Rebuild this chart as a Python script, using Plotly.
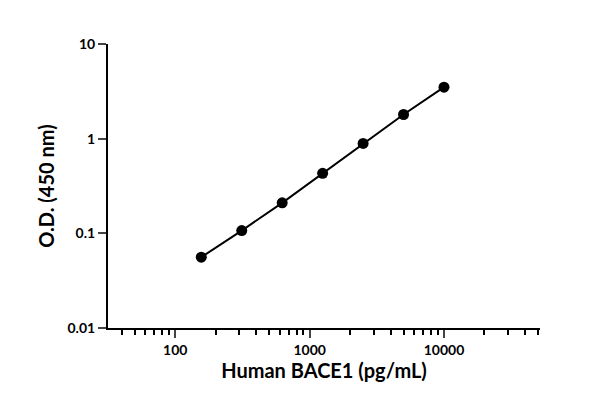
import plotly.graph_objects as go
import numpy as np

conc = [156.25, 312.5, 625, 1250, 2500, 5000, 10000]
od = [0.056, 0.107, 0.21, 0.43, 0.89, 1.8, 3.5]
xticks = [100, 1000, 10000]
xlabels = ["100", "1000", "10000"]
yticks = [0.01, 0.1, 1, 10]
ylabels = ["0.01", "0.1", "1", "10"]

fig = go.Figure()
fig.add_trace(go.Scatter(x=conc, y=od, mode="lines+markers",
                         line=dict(color="black", width=2),
                         marker=dict(color="black", size=11)))

minor_x = [v*m for v in [10, 100, 1000, 10000] for m in range(2, 10)]
fig.update_layout(
    width=600, height=414, plot_bgcolor="white", paper_bgcolor="white",
    margin=dict(l=100, r=68, t=36, b=94), showlegend=False,
    font=dict(family="Lato", color="black", size=14),
    xaxis=dict(type="log", range=[np.log10(31.6), np.log10(51800)],
               tickvals=xticks, ticktext=[f"<b>{t}</b>" for t in xlabels],
               showgrid=False, zeroline=False, showline=True, linecolor="black", linewidth=2,
               ticks="outside", ticklen=8, tickwidth=2,
               minor=dict(tickvals=minor_x, ticklen=5, tickwidth=1.5, ticks="outside", tickcolor="black"),
               title=dict(text="<b>Human BACE1 (pg/mL)</b>", font=dict(size=20), standoff=6),
               tickfont=dict(size=14, family="Lato")),
    yaxis=dict(type="log", range=[-2, 1],
               tickvals=yticks, ticktext=[f"<b>{t}</b>" for t in ylabels],
               showgrid=False, zeroline=False, showline=True, linecolor="black", linewidth=2,
               ticks="outside", ticklen=8, tickwidth=2,
               title=dict(text="<b>O.D. (450 nm)</b>", font=dict(size=20), standoff=8),
               tickfont=dict(size=14, family="Lato")),
)
fig.write_html("out.html")
